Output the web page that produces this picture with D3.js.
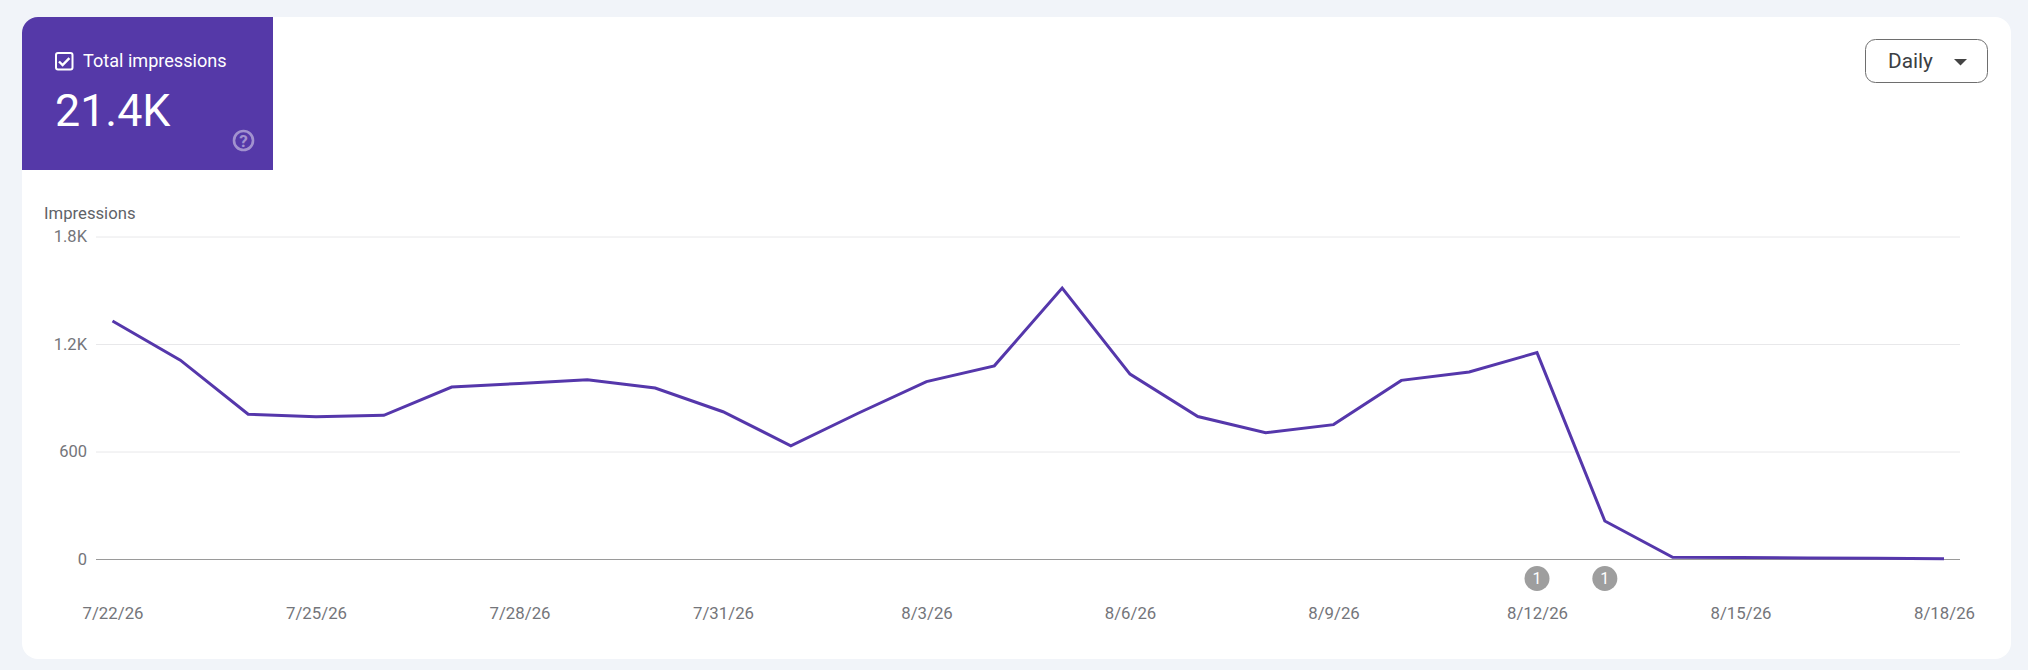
<!DOCTYPE html>
<html><head><meta charset="utf-8">
<script src="https://cdnjs.cloudflare.com/ajax/libs/d3/7.8.5/d3.min.js"></script>
<style>html,body{margin:0;padding:0;background:#f1f4f9;overflow:hidden}svg{display:block}text{font-family:Roboto,sans-serif}</style>
</head><body><svg id="c" width="2028" height="670"></svg>
<script>
const dates = ["2026-07-22","2026-07-23","2026-07-24","2026-07-25","2026-07-26","2026-07-27","2026-07-28","2026-07-29","2026-07-30","2026-07-31","2026-08-01","2026-08-02","2026-08-03","2026-08-04","2026-08-05","2026-08-06","2026-08-07","2026-08-08","2026-08-09","2026-08-10","2026-08-11","2026-08-12","2026-08-13","2026-08-14","2026-08-15","2026-08-16","2026-08-17","2026-08-18"];
const impressions = [1328,1110,808,794,802,960,980,1000,954,822,632,815,990,1078,1512,1032,795,705,750,997,1044,1152,212,10,9,6,4,2];
const yTicks = [0,600,1200,1800];
const yTickLabels = ["0","600","1.2K","1.8K"];
const xTicks = ["2026-07-22","2026-07-25","2026-07-28","2026-07-31","2026-08-03","2026-08-06","2026-08-09","2026-08-12","2026-08-15","2026-08-18"];
const xTickLabels = ["7/22/26","7/25/26","7/28/26","7/31/26","8/3/26","8/6/26","8/9/26","8/12/26","8/15/26","8/18/26"];
const annotationDates = ["2026-08-12","2026-08-13"];
const annotationLabels = ["1","1"];
const summaryTitle = "Total impressions", summaryValue = "21.4K", yTitle = "Impressions", granularity = "Daily";

const P = d3.utcParse("%Y-%m-%d");
const svg = d3.select("#c");
const x = d3.scaleUtc().domain([P(dates[0]),P(dates[dates.length-1])]).range([112.5,1944]);
const y = d3.scaleLinear().domain([0,1800]).range([559,236.5]);

svg.append("path").attr("fill","#fff").attr("d","M22,33a16,16 0 0 1 16,-16H1995a16,16 0 0 1 16,16V643a16,16 0 0 1 -16,16H38a16,16 0 0 1 -16,-16Z");
svg.append("path").attr("fill","#5539a8").attr("d","M22,170V33a16,16 0 0 1 16,-16H273V170Z");
svg.append("rect").attr("x",56).attr("y",53).attr("width",16.5).attr("height",16.5).attr("rx",2).attr("fill","none").attr("stroke","#fff").attr("stroke-width",2);
svg.append("path").attr("d","M59,61.5l3.6,3.6l6.8,-7").attr("fill","none").attr("stroke","#fff").attr("stroke-width",2.4);
svg.append("text").attr("x",83).attr("y",66.5).attr("fill","#fff").style("font-size","18.1px").text(summaryTitle);
svg.append("text").attr("x",55).attr("y",126).attr("fill","#fff").style("font-size","44.8px").text(summaryValue);
const hg = svg.append("g").attr("opacity",0.45);
hg.append("circle").attr("cx",243.5).attr("cy",140.5).attr("r",9.5).attr("fill","none").attr("stroke","#fff").attr("stroke-width",2.6);
hg.append("text").attr("x",243.5).attr("y",146.5).attr("text-anchor","middle").attr("fill","#fff").style("font-size","17px").style("font-weight",700).text("?");
svg.append("rect").attr("x",1865.5).attr("y",39.5).attr("width",122).attr("height",43).attr("rx",10).attr("fill","#fff").attr("stroke","#6e6e6e").attr("stroke-width",1);
svg.append("text").attr("x",1888).attr("y",67.5).attr("fill","#3c4043").style("font-size","20.8px").text(granularity);
svg.append("path").attr("d","M1954,59h13l-6.5,6.5Z").attr("fill","#444");

svg.append("text").attr("x",44).attr("y",218.5).attr("fill","#5f6368").style("font-size","16.7px").text(yTitle);

const yAxis = d3.axisLeft(y).tickValues(yTicks).tickSize(0).tickPadding(9).tickFormat((d,i)=>yTickLabels[i]);
const gy = svg.append("g").attr("transform","translate(96,0)").call(yAxis);
gy.select(".domain").remove();
gy.selectAll(".tick line").attr("x1",0).attr("x2",1864).attr("stroke",d=>d===0?"#9a9a9a":"#e8e8ea").attr("stroke-width",1);
gy.selectAll("text").attr("fill","#74757a").style("font-size","16.5px");

const xAxis = d3.axisBottom(x).tickValues(xTicks.map(P)).tickSize(0).tickPadding(0).tickFormat((d,i)=>xTickLabels[i]);
const gx = svg.append("g").attr("transform","translate(0,607)").call(xAxis);
gx.select(".domain").remove();
gx.selectAll("text").attr("fill","#74757a").style("font-size","16.8px").attr("y",0).attr("dy","0.71em");

const line = d3.line().x((d,i)=>x(P(dates[i]))).y(d=>y(d));
svg.append("path").datum(impressions).attr("d",line).attr("fill","none").attr("stroke","#5537ab").attr("stroke-width",3).attr("stroke-linejoin","miter");

const ag = svg.append("g").selectAll("g").data(annotationDates).join("g").attr("transform",d=>`translate(${x(P(d))},578.5)`);
ag.append("circle").attr("r",12.5).attr("fill","#9e9e9e");
ag.append("text").attr("text-anchor","middle").attr("y",5.5).attr("fill","#fff").style("font-size","16px").text((d,i)=>annotationLabels[i]);
</script></body></html>
